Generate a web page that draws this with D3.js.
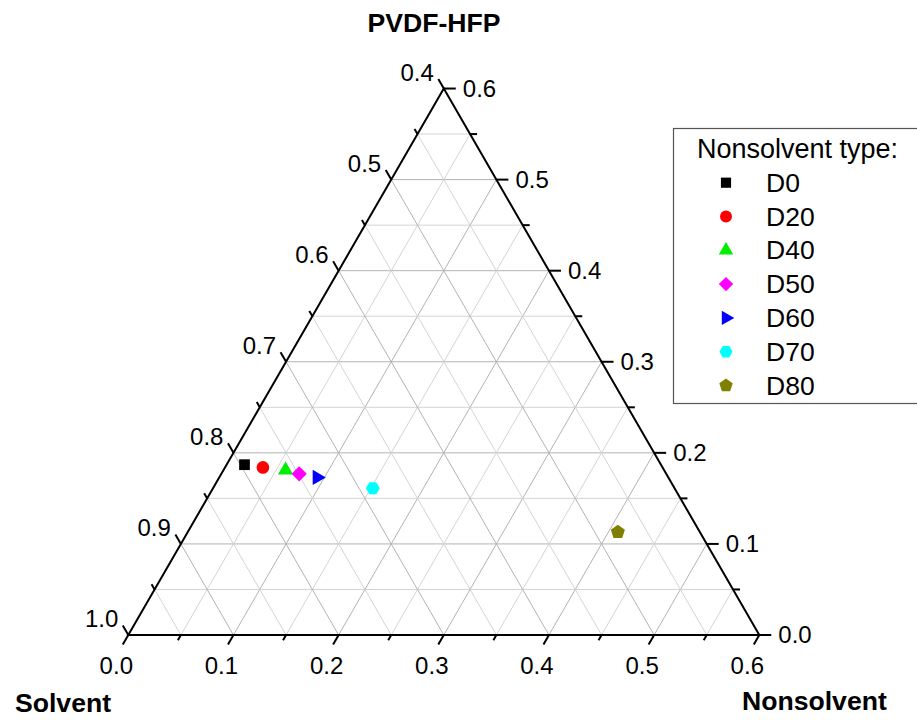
<!DOCTYPE html>
<html>
<head>
<meta charset="utf-8">
<script src="https://cdn.jsdelivr.net/npm/d3@7"></script>
<style>
  html, body { margin: 0; padding: 0; background: #fff; }
  svg { display: block; font-family: "Liberation Sans", Arial, sans-serif; }
</style>
</head>
<body>
<div id="chart"></div>
<script>
// data (mass fractions)
const series = ["D0", "D20", "D40", "D50", "D60", "D70", "D80"];
const pvdf = [0.187, 0.184, 0.181, 0.177, 0.173, 0.161, 0.113];
const nonsolvent = [0.017, 0.036, 0.059, 0.074, 0.093, 0.152, 0.409];
const solvent = [0.796, 0.780, 0.760, 0.749, 0.734, 0.687, 0.478];
const colors = ["#000000", "#ff0000", "#00ee00", "#ff00ff", "#0000ff", "#00ffff", "#808000"];

const nTicks = [0.0, 0.1, 0.2, 0.3, 0.4, 0.5, 0.6];   // bottom (nonsolvent)
const pTicks = [0.0, 0.1, 0.2, 0.3, 0.4, 0.5, 0.6];   // right (PVDF-HFP)
const sTicks = [1.0, 0.9, 0.8, 0.7, 0.6, 0.5, 0.4];   // left (solvent)
const gridStep = 0.05;
const span = 0.6;

const width = 917, height = 720;
const x0 = 128.3, y0 = 635, side = 631;
const triH = side * Math.sqrt(3) / 2;

const svg = d3.select("#chart").append("svg")
    .attr("width", width).attr("height", height)
    .attr("viewBox", [0, 0, width, height]);

// length scale along an edge
const len = d3.scaleLinear().domain([0, span]).range([0, side]);
const hgt = d3.scaleLinear().domain([0, span]).range([0, triH]);
// (nonsolvent, pvdf) -> pixel
const pos = (n, p) => [x0 + len(n + p / 2), y0 - hgt(p)];

const steps = d3.range(1, Math.round(span / gridStep)).map(i => i * gridStep);
const isMajor = v => Math.abs(v * 10 - Math.round(v * 10)) < 1e-6;

// grid
const grid = svg.append("g").attr("fill", "none");
steps.forEach(v => {
    const stroke = isMajor(v) ? "#b3b3b3" : "#d4d4d4";
    const lines = [
        [pos(0, v), pos(span - v, v)],      // constant PVDF
        [pos(v, 0), pos(v, span - v)],      // constant nonsolvent
        [pos(v, 0), pos(0, v)]              // constant solvent
    ];
    lines.forEach(l => grid.append("line")
        .attr("x1", l[0][0]).attr("y1", l[0][1])
        .attr("x2", l[1][0]).attr("y2", l[1][1])
        .attr("stroke", stroke).attr("stroke-width", 1));
});

// ticks
const ticks = svg.append("g").attr("stroke", "#000").attr("stroke-width", 2);
const allSteps = d3.range(0, Math.round(span / gridStep) + 1).map(i => i * gridStep);
const c60 = Math.cos(Math.PI / 3), s60 = Math.sin(Math.PI / 3);
allSteps.forEach(v => {
    const L = isMajor(v) ? 11 : 6;
    // bottom: down-left
    let b = pos(v, 0);
    ticks.append("line").attr("x1", b[0]).attr("y1", b[1])
        .attr("x2", b[0] - L * c60).attr("y2", b[1] + L * s60);
    // right: horizontal
    let r = pos(span - v, v);
    ticks.append("line").attr("x1", r[0]).attr("y1", r[1])
        .attr("x2", r[0] + L + 1).attr("y2", r[1]);
    // left: up-left
    let l = pos(0, v);
    ticks.append("line").attr("x1", l[0]).attr("y1", l[1])
        .attr("x2", l[0] - L * c60).attr("y2", l[1] - L * s60);
});

// triangle frame
svg.append("path")
    .attr("d", d3.line()([pos(0, 0), pos(span, 0), pos(0, span)]) + "Z")
    .attr("fill", "none").attr("stroke", "#000").attr("stroke-width", 2)
    .attr("stroke-linejoin", "miter");

// tick labels
const labels = svg.append("g").attr("font-size", 24).attr("fill", "#000");
nTicks.forEach(n => {
    const b = pos(n, 0);
    labels.append("text").attr("x", b[0] - 12).attr("y", b[1] + 39)
        .attr("text-anchor", "middle").text(n.toFixed(1));
});
pTicks.forEach(p => {
    const r = pos(span - p, p);
    labels.append("text").attr("x", r[0] + 19).attr("y", r[1] + 8)
        .attr("text-anchor", "start").text(p.toFixed(1));
});
sTicks.forEach(s => {
    const l = pos(0, 1 - s);
    labels.append("text").attr("x", l[0] - 10).attr("y", l[1] - 8)
        .attr("text-anchor", "end").text(s.toFixed(1));
});

// axis titles
const titles = svg.append("g").attr("font-size", 26.6).attr("font-weight", "bold");
titles.append("text").attr("x", 434).attr("y", 32).attr("text-anchor", "middle").text("PVDF-HFP");
titles.append("text").attr("x", 15).attr("y", 712).text("Solvent");
titles.append("text").attr("x", 742).attr("y", 710).text("Nonsolvent");

// marker shapes
const hexagon = {
    draw(ctx, size) {
        const r = Math.sqrt(size / (3 * Math.sqrt(3) / 2));
        for (let k = 0; k < 6; k++) {
            const a = k * Math.PI / 3;
            k ? ctx.lineTo(r * Math.cos(a), r * Math.sin(a)) : ctx.moveTo(r, 0);
        }
        ctx.closePath();
    }
};
const pentagon = {
    draw(ctx, size) {
        const r = Math.sqrt(size / 2.3776);
        for (let k = 0; k < 5; k++) {
            const a = -Math.PI / 2 + k * 2 * Math.PI / 5;
            k ? ctx.lineTo(r * Math.cos(a), r * Math.sin(a)) : ctx.moveTo(r * Math.cos(a), r * Math.sin(a));
        }
        ctx.closePath();
    }
};
const rhombus = {
    draw(ctx, size) {
        const r = Math.sqrt(size / 2);
        ctx.moveTo(0, -r); ctx.lineTo(r, 0); ctx.lineTo(0, r); ctx.lineTo(-r, 0);
        ctx.closePath();
    }
};
const shapes = [d3.symbolSquare, d3.symbolCircle, d3.symbolTriangle, rhombus, d3.symbolTriangle, hexagon, pentagon];
const sizes = [115, 125, 100, 115, 100, 125, 130];
const rotations = [0, 0, 0, 0, 90, 0, 0];

const points = series.map((name, i) => ({
    name, p: pvdf[i], n: nonsolvent[i], s: solvent[i], color: colors[i],
    shape: shapes[i], size: sizes[i], rot: rotations[i]
}));

svg.append("g").selectAll("path")
    .data(points)
    .join("path")
    .attr("d", d => d3.symbol().type(d.shape).size(d.size)())
    .attr("transform", d => {
        const [x, y] = pos(d.n, d.p);
        return `translate(${x},${y}) rotate(${d.rot})`;
    })
    .attr("fill", d => d.color);

// legend
const legend = svg.append("g");
legend.append("rect")
    .attr("x", 673.5).attr("y", 128.5).attr("width", 260).attr("height", 275)
    .attr("fill", "#fff").attr("stroke", "#555").attr("stroke-width", 1.2);
legend.append("text").attr("x", 697).attr("y", 158)
    .attr("font-size", 27).text("Nonsolvent type:");
const item = legend.selectAll("g.item")
    .data(points)
    .join("g")
    .attr("class", "item")
    .attr("transform", (d, i) => `translate(0,${182.7 + i * 33.8})`);
item.append("path")
    .attr("d", d => d3.symbol().type(d.shape).size(d.size * 0.9)())
    .attr("transform", d => `translate(726,0) rotate(${d.rot})`)
    .attr("fill", d => d.color);
item.append("text").attr("x", 766).attr("y", 9)
    .attr("font-size", 26.5).text(d => d.name);
</script>
</body>
</html>
